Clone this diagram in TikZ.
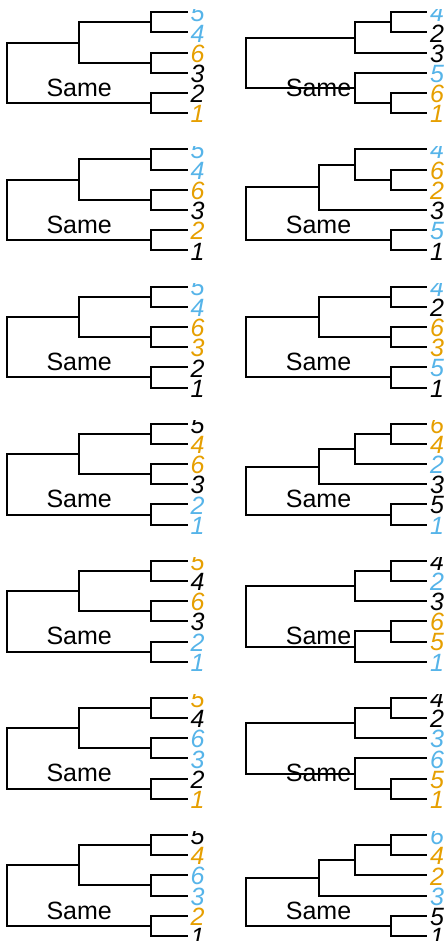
\documentclass[tikz,border=0pt]{standalone}
\usepackage{fontspec}
\setmainfont{Liberation Sans}
\definecolor{cb}{HTML}{56B4E9}
\definecolor{co}{HTML}{E69F00}
\definecolor{ck}{HTML}{000000}
\def\trU{36.1}
\def\trS{20.2}
\tikzset{
  branch/.style={line width=2pt, line join=miter, line cap=butt},
  tiplab/.style={anchor=west, inner sep=0pt, font=\fontsize{25}{25}\selectfont\itshape},
  samelab/.style={anchor=center, inner sep=0pt, font=\fontsize{25}{25}\selectfont},
}
% tip: prefix, k, label, colour
\newcommand\tipl[4]{%
  \coordinate (#1t#2) at ({5*\trU},{#2*\trS});
  \node[tiplab,text=#4] (#1l#2) at ({5*\trU+3},{#2*\trS+1}) {#3};}
\newcommand\tipsix[2]{%
  \foreach \lab/\col [count=\kk from 0] in {#2} {\tipl{#1}{\kk}{\lab}{\col}}}
\newcommand\inode[3]{\coordinate (#1) at ({#2*\trU},{#3*\trS});}
\newcommand\brn[2]{\draw[branch] (#1) |- (#2);}
% ((0,1),(2,3)),(4,5)
\newcommand\topoA[1]{%
  \inode{#1c01}{4}{0.5}\inode{#1c23}{4}{2.5}\inode{#1A}{2}{1.5}\inode{#1c45}{4}{4.5}\inode{#1r}{0}{3}%
  \brn{#1r}{#1A}\brn{#1r}{#1c45}\brn{#1A}{#1c01}\brn{#1A}{#1c23}%
  \brn{#1c01}{#1t0}\brn{#1c01}{#1t1}\brn{#1c23}{#1t2}\brn{#1c23}{#1t3}%
  \brn{#1c45}{#1t4}\brn{#1c45}{#1t5}}
% ((0,1),2),(3,(4,5))
\newcommand\topoB[1]{%
  \inode{#1c01}{4}{0.5}\inode{#1X}{3}{1.25}\inode{#1c45}{4}{4.5}\inode{#1Y}{3}{3.75}\inode{#1r}{0}{2.5}%
  \brn{#1r}{#1X}\brn{#1r}{#1Y}\brn{#1X}{#1c01}\brn{#1X}{#1t2}%
  \brn{#1c01}{#1t0}\brn{#1c01}{#1t1}\brn{#1Y}{#1t3}\brn{#1Y}{#1c45}%
  \brn{#1c45}{#1t4}\brn{#1c45}{#1t5}}
% ((0,(1,2)),3),(4,5)
\newcommand\topoC[1]{%
  \inode{#1c12}{4}{1.5}\inode{#1Q}{3}{0.75}\inode{#1P}{2}{1.875}\inode{#1c45}{4}{4.5}\inode{#1r}{0}{3.1875}%
  \brn{#1r}{#1P}\brn{#1r}{#1c45}\brn{#1P}{#1Q}\brn{#1P}{#1t3}%
  \brn{#1Q}{#1t0}\brn{#1Q}{#1c12}\brn{#1c12}{#1t1}\brn{#1c12}{#1t2}%
  \brn{#1c45}{#1t4}\brn{#1c45}{#1t5}}
% (((0,1),2),3),(4,5)
\newcommand\topoD[1]{%
  \inode{#1c01}{4}{0.5}\inode{#1Q}{3}{1.25}\inode{#1P}{2}{2.125}\inode{#1c45}{4}{4.5}\inode{#1r}{0}{3.3125}%
  \brn{#1r}{#1P}\brn{#1r}{#1c45}\brn{#1P}{#1Q}\brn{#1P}{#1t3}%
  \brn{#1Q}{#1c01}\brn{#1Q}{#1t2}\brn{#1c01}{#1t0}\brn{#1c01}{#1t1}%
  \brn{#1c45}{#1t4}\brn{#1c45}{#1t5}}
% ((0,1),2),((3,4),5)
\newcommand\topoE[1]{%
  \inode{#1c01}{4}{0.5}\inode{#1X}{3}{1.25}\inode{#1c34}{4}{3.5}\inode{#1Y}{3}{4.25}\inode{#1r}{0}{2.75}%
  \brn{#1r}{#1X}\brn{#1r}{#1Y}\brn{#1X}{#1c01}\brn{#1X}{#1t2}%
  \brn{#1c01}{#1t0}\brn{#1c01}{#1t1}\brn{#1Y}{#1c34}\brn{#1Y}{#1t5}%
  \brn{#1c34}{#1t3}\brn{#1c34}{#1t4}}
% panel: x0, row, prefix, content
\newcommand\panel[4]{%
  \begin{scope}[shift={(#1,{12.3+137.1*#2})}]
    \clip (-10,-3) rectangle (215,134);
    #4
    \node[samelab] (#3same) at ({2*\trU},75.5) {Same};
  \end{scope}}
\begin{document}
\begin{tikzpicture}[x=1pt,y=-1pt]
\useasboundingbox (0,0) rectangle (446,941);
\fill[white] (0,0) rectangle (446,941);
% left column
\panel{7}{0}{a1}{\tipsix{a1}{5/cb,4/cb,6/co,3/ck,2/ck,1/co}\topoA{a1}}
\panel{7}{1}{a2}{\tipsix{a2}{5/cb,4/cb,6/co,3/ck,2/co,1/ck}\topoA{a2}}
\panel{7}{2}{a3}{\tipsix{a3}{5/cb,4/cb,6/co,3/co,2/ck,1/ck}\topoA{a3}}
\panel{7}{3}{a4}{\tipsix{a4}{5/ck,4/co,6/co,3/ck,2/cb,1/cb}\topoA{a4}}
\panel{7}{4}{a5}{\tipsix{a5}{5/co,4/ck,6/co,3/ck,2/cb,1/cb}\topoA{a5}}
\panel{7}{5}{a6}{\tipsix{a6}{5/co,4/ck,6/cb,3/cb,2/ck,1/co}\topoA{a6}}
\panel{7}{6}{a7}{\tipsix{a7}{5/ck,4/co,6/cb,3/cb,2/co,1/ck}\topoA{a7}}
% right column
\panel{246.3}{0}{b1}{\tipsix{b1}{4/cb,2/ck,3/ck,5/cb,6/co,1/co}\topoB{b1}}
\panel{246.3}{1}{b2}{\tipsix{b2}{4/cb,6/co,2/co,3/ck,5/cb,1/ck}\topoC{b2}}
\panel{246.3}{2}{b3}{\tipsix{b3}{4/cb,2/ck,6/co,3/co,5/cb,1/ck}\topoA{b3}}
\panel{246.3}{3}{b4}{\tipsix{b4}{6/co,4/co,2/cb,3/ck,5/ck,1/cb}\topoD{b4}}
\panel{246.3}{4}{b5}{\tipsix{b5}{4/ck,2/cb,3/ck,6/co,5/co,1/cb}\topoE{b5}}
\panel{246.3}{5}{b6}{\tipsix{b6}{4/ck,2/ck,3/cb,6/cb,5/co,1/co}\topoB{b6}}
\panel{246.3}{6}{b7}{\tipsix{b7}{6/cb,4/co,2/co,3/cb,5/ck,1/ck}\topoD{b7}}
\end{tikzpicture}
\end{document}
